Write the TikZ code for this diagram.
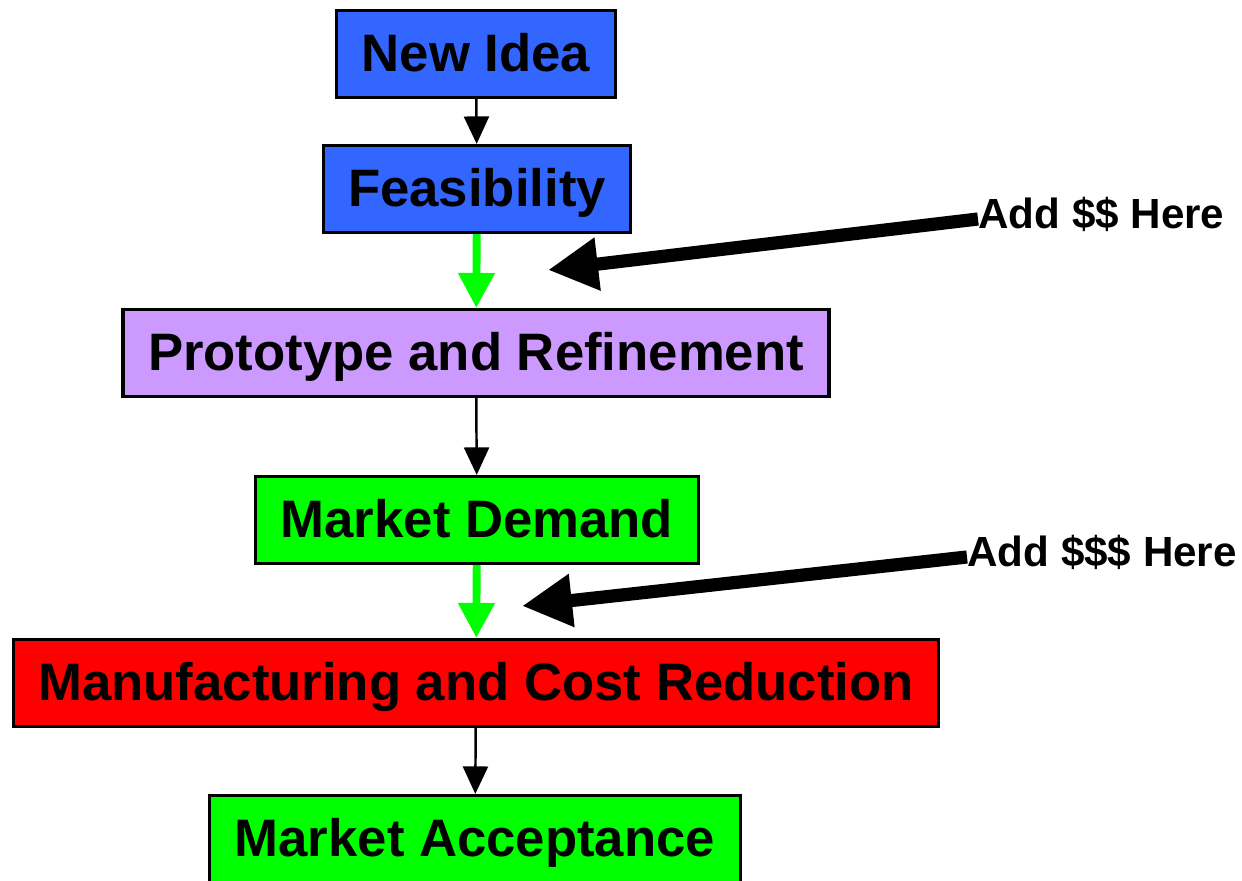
\documentclass[tikz,border=0pt]{standalone}
\usepackage{fontspec}
\setmainfont{Liberation Sans}
\usetikzlibrary{arrows.meta, positioning}
\definecolor{ideablue}{HTML}{3366FF}
\definecolor{protolilac}{HTML}{CC99FF}
\definecolor{gogreen}{HTML}{00FF00}
\definecolor{stopred}{HTML}{FF0000}
\tikzset{
  stepbox/.style={rectangle, draw=black, line width=1.8pt, inner xsep=0.5cm, minimum height=1.74cm, text height=20pt, text depth=0pt, font=\fontsize{30}{36}\selectfont\bfseries},
  flowarrow/.style={-{Triangle[length=0.55cm, width=0.5cm]}, line width=1.4pt},
  fundarrow/.style={-{Triangle[length=0.7cm, width=0.7cm]}, line width=4.5pt, draw=gogreen},
  bigarrow/.style={-{Triangle[length=1.0cm, width=1.0cm]}, line width=7.5pt},
  moneylabel/.style={inner sep=0, font=\fontsize{24}{28}\selectfont\bfseries}
}

\begin{document}
\begin{tikzpicture}[x=0.02cm, y=-0.02cm]
\useasboundingbox (0,0) rectangle (1242,881);

% Stages, top to bottom
\node[stepbox, fill=ideablue] (idea) at (476,54) {New Idea};
\node[stepbox, fill=ideablue] (feas) at (477,189) {Feasibility};
\node[stepbox, fill=protolilac] (proto) at (476,353) {Prototype and Refinement};
\node[stepbox, fill=gogreen] (demand) at (477,520) {Market Demand};
\node[stepbox, fill=stopred] (manuf) at (476,683) {Manufacturing and Cost Reduction};
\node[stepbox, fill=gogreen] (accept) at (475,839) {Market Acceptance};

% Funding notes
\node[moneylabel, anchor=west] (money1) at (978,214) {Add \$\$ Here};
\node[moneylabel, anchor=west] (money2) at (967,552) {Add \$\$\$ Here};
\coordinate (tip1) at (548,270);
\coordinate (tip2) at (522,606);

% Flow between stages
\draw[flowarrow] (idea) -- (feas);
\draw[fundarrow] (feas) -- (proto);
\draw[flowarrow] (proto) -- (demand);
\draw[fundarrow] (demand) -- (manuf);
\draw[flowarrow] (manuf) -- (accept);

% Pointers to where money goes in
\draw[bigarrow] ([yshift=-0.1cm]money1.west) -- (tip1);
\draw[bigarrow] ([yshift=-0.1cm]money2.west) -- (tip2);

\end{tikzpicture}
\end{document}
